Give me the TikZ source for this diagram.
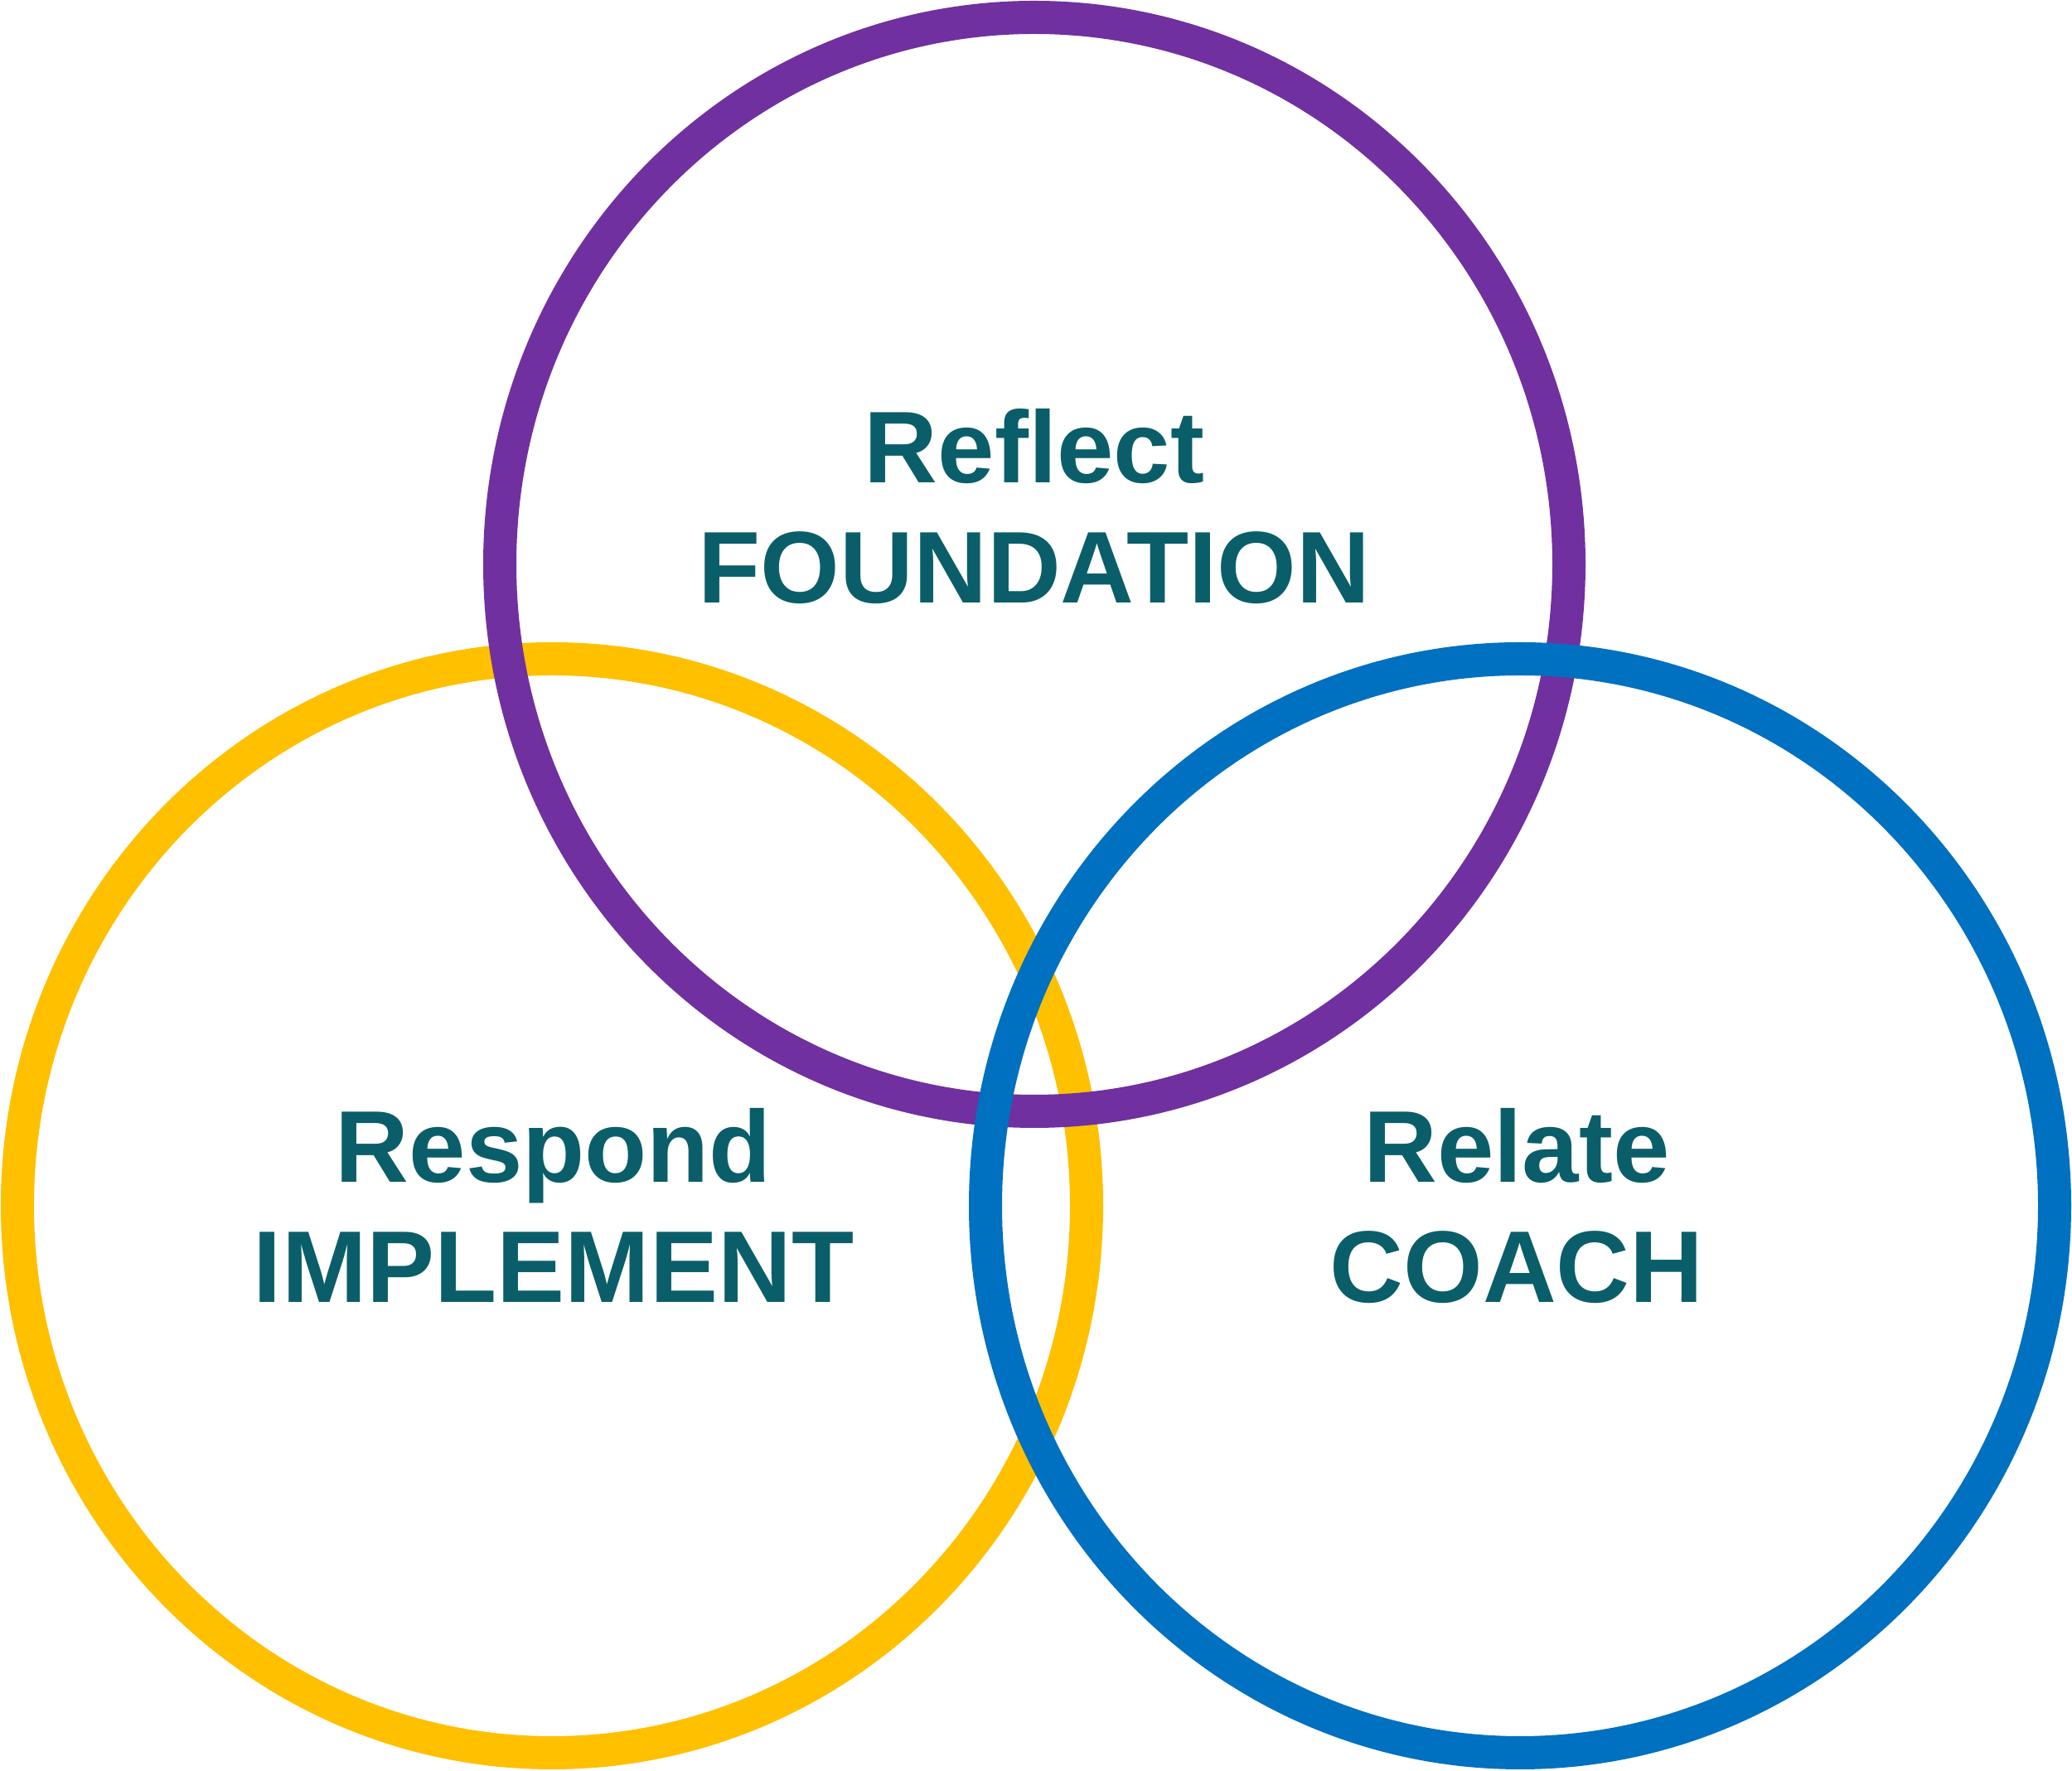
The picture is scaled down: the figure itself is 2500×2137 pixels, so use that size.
\documentclass[tikz,border=0pt]{standalone}
\usepackage{fontspec}
\setmainfont{Liberation Sans}
\definecolor{ringpurple}{HTML}{7030A0}
\definecolor{ringyellow}{HTML}{FFC000}
\definecolor{ringblue}{HTML}{0070C0}
\definecolor{labelteal}{HTML}{0A5E69}
\begin{document}
\begin{tikzpicture}[x=0.1mm, y=0.1mm,
		ring/.style = {line width = 4mm},
		lbl/.style = {text = labelteal, font = \fontsize{35}{41}\selectfont\bfseries, inner sep = 0pt, anchor = base}]
	\useasboundingbox (0,0) rectangle (2500,2137);
	% rings, drawn bottom to top: yellow, purple, blue
	\draw [ring, ringyellow] (666,682) ellipse [x radius = 64.5mm, y radius = 66mm];
	\draw [ring, ringpurple] (1248,1456) ellipse [x radius = 64.5mm, y radius = 66mm];
	\draw [ring, ringblue] (1834,682) ellipse [x radius = 64.5mm, y radius = 66mm];
	% labels
	\node [lbl] (reflect) at (1248,1554) {Reflect};
	\node [lbl] (foundation) at (1248,1409) {FOUNDATION};
	\node [lbl] (respond) at (668,710) {Respond};
	\node [lbl] (implement) at (668,565) {IMPLEMENT};
	\node [lbl] (relate) at (1830,710) {Relate};
	\node [lbl] (coach) at (1830,565) {COACH};
	%\draw (1248,1456) node {$+$};
\end{tikzpicture}
\end{document}
